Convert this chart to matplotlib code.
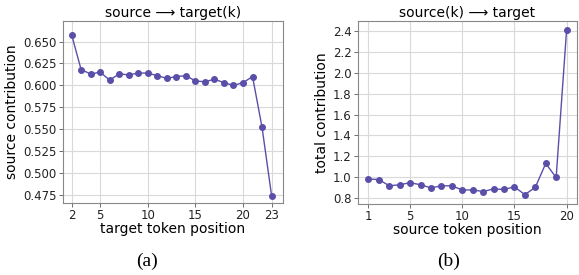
import matplotlib
matplotlib.use("Agg")
import matplotlib.pyplot as plt

pos_a = list(range(2, 24))
src_contrib = [0.658, 0.618, 0.613, 0.615, 0.606, 0.613, 0.612, 0.614, 0.614, 0.611,
               0.608, 0.610, 0.611, 0.605, 0.604, 0.607, 0.603, 0.600, 0.603, 0.610,
               0.552, 0.474]
pos_b = list(range(1, 21))
total_contrib = [0.98, 0.975, 0.915, 0.925, 0.945, 0.925, 0.895, 0.915, 0.915, 0.875,
                 0.875, 0.86, 0.885, 0.88, 0.905, 0.83, 0.90, 1.13, 0.995, 2.41]
xticks_a = [2, 5, 10, 15, 20, 23]
xticks_b = [1, 5, 10, 15, 20]
yticks_a = [0.475, 0.500, 0.525, 0.550, 0.575, 0.600, 0.625, 0.650]
yticks_b = [0.8, 1.0, 1.2, 1.4, 1.6, 1.8, 2.0, 2.2, 2.4]

color = "#5a4fa8"
W, H = 579, 275
fig = plt.figure(figsize=(W / 100, H / 100), dpi=100)

def style(ax):
    ax.grid(True, color="#d9d9d9", linewidth=0.8)
    ax.set_axisbelow(True)
    for s in ax.spines.values():
        s.set_color("#888888")
        s.set_linewidth(0.8)
    ax.tick_params(labelsize=8.5, length=3, width=0.6, color="#555555", pad=1.5,
                   labelcolor="#222222")

axa = fig.add_axes([63 / W, 1 - 203 / H, 220 / W, 182 / H])
axa.plot(pos_a, src_contrib, "-o", color=color, markersize=4, linewidth=1.0)
axa.set_xticks(xticks_a)
axa.set_yticks(yticks_a)
axa.set_yticklabels([f"{v:.3f}" for v in yticks_a])
axa.set_xlim(1.1, 24.2)
axa.set_ylim(0.4655, 0.6735)
axa.set_title("source ⟶ target(k)", fontsize=10, pad=3)
axa.set_xlabel("target token position", fontsize=10, labelpad=0)
axa.set_ylabel("source contribution", fontsize=10, labelpad=3)
style(axa)

axb = fig.add_axes([358 / W, 1 - 204 / H, 219 / W, 183 / H])
axb.plot(pos_b, total_contrib, "-o", color=color, markersize=4, linewidth=1.0)
axb.set_xticks(xticks_b)
axb.set_yticks(yticks_b)
axb.set_yticklabels([f"{v:.1f}" for v in yticks_b])
axb.set_xlim(0.0, 21.0)
axb.set_ylim(0.74, 2.50)
axb.set_title("source(k) ⟶ target", fontsize=10, pad=3)
axb.set_xlabel("source token position", fontsize=10, labelpad=0)
axb.set_ylabel("total contribution", fontsize=10, labelpad=3)
style(axb)

fig.text(147 / W, 1 - 261 / H, "(a)", fontsize=14, family="Liberation Serif", ha="center", va="center")
fig.text(449 / W, 1 - 261 / H, "(b)", fontsize=14, family="Liberation Serif", ha="center", va="center")

fig.savefig("out.png", dpi=100)
